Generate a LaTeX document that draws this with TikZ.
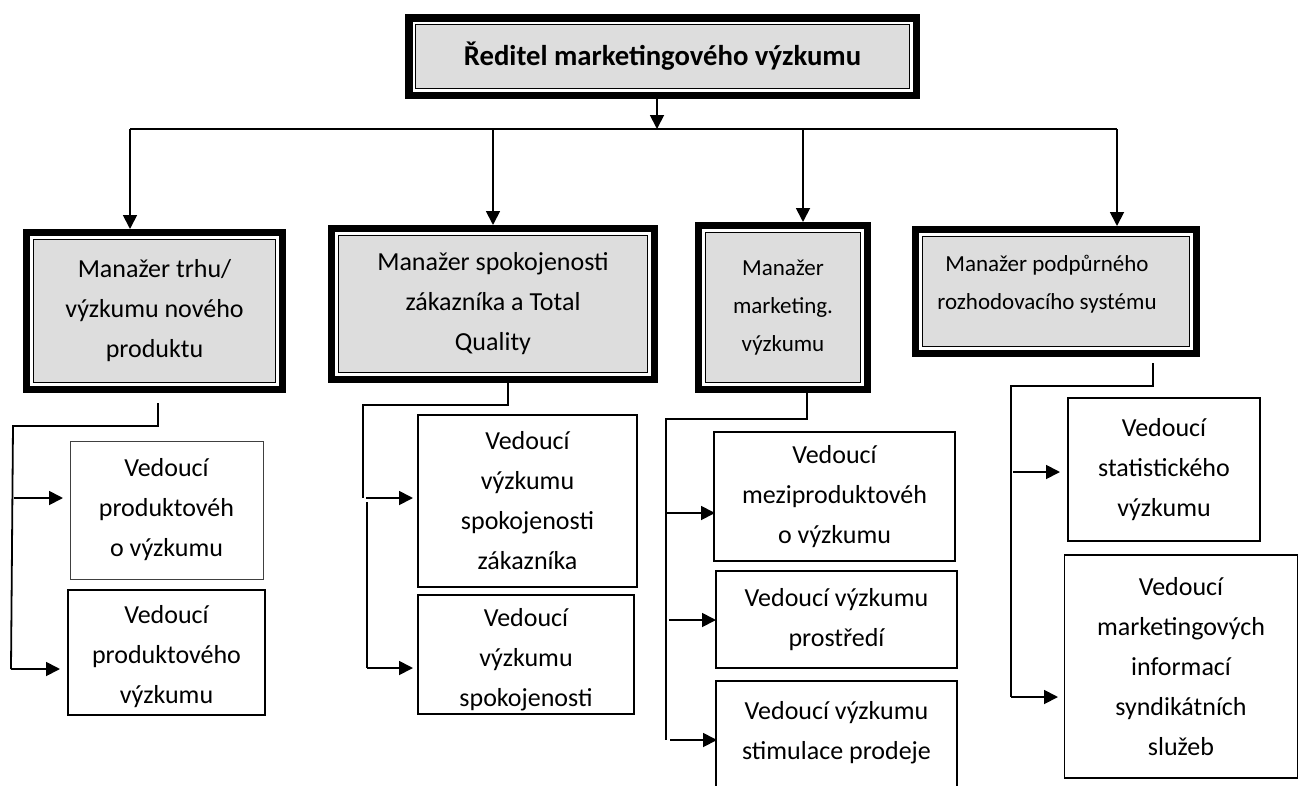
\documentclass[tikz,border=0pt]{standalone}
\usepackage{fontspec}
\setmainfont{Carlito}
\usetikzlibrary{arrows.meta,calc}
\definecolor{mgrgray}{HTML}{DDDDDD}
\begin{document}
\begin{tikzpicture}[x=1pt,y=-1pt,
  txt/.style={font=\fontsize{26}{40}\selectfont, align=center},
  smalltxt/.style={font=\fontsize{23}{38}\selectfont, align=center},
  mgr/.style={draw=black, line width=7pt, fill=white, inner sep=0pt, txt,
    path picture={\draw[line width=1.3pt, fill=mgrgray]
      ([shift={(7,7)}]path picture bounding box.north west) rectangle
      ([shift={(-7,-7)}]path picture bounding box.south east);}},
  sub/.style={draw=black, line width=1.4pt, inner sep=0pt, txt},
  conn/.style={line width=1.8pt},
  arr/.style={conn, -{Triangle[length=14pt,width=14pt]}},
]
\useasboundingbox (0,0) rectangle (1299,785);
\clip (0,0) rectangle (1299,785);

% director
\node[mgr, line width=7.5pt, minimum width=507.5pt, minimum height=77.5pt,
      font=\bfseries\fontsize{28.7}{34}\selectfont] (top) at (662.5,56.5)
      {Ředitel marketingového výzkumu};

% managers
\node[mgr, minimum width=256pt, minimum height=157pt] (m1) at (154.5,311)
  {Manažer trhu/\\výzkumu nového\\produktu};
\node[mgr, minimum width=323pt, minimum height=151pt] (m2) at (493,304)
  {Manažer spokojenosti\\zákazníka a Total\\Quality};
\node[mgr, smalltxt, minimum width=169pt, minimum height=164pt] (m3) at (783,307.5)
  {Manažer\\marketing.\\výzkumu};
\node[mgr, minimum width=281pt, minimum height=124pt] (m4) at (1056,291.5) {};
\node[smalltxt] (m4t) at (1047,284) {Manažer podpůrného\\rozhodovacího systému};

% section heads
\node[sub, line width=0.9pt, draw=black!75, minimum width=193pt, minimum height=138pt] (a1) at (166.5,510)
  {Vedoucí\\produktovéh\\o výzkumu};
\node[sub, minimum width=197pt, minimum height=125pt] (a2) at (166.5,652.5) {};
\node[txt] (a2t) at (166.5,657) {Vedoucí\\produktového\\výzkumu};

\node[sub, minimum width=219pt, minimum height=172pt] (b1) at (527.5,501)
  {Vedoucí\\výzkumu\\spokojenosti\\zákazníka};
\node[sub, minimum width=216pt, minimum height=119pt] (b2) at (526,654.5) {};
\node[txt] (b2t) at (526,660) {Vedoucí\\výzkumu\\spokojenosti};

\node[sub, minimum width=241pt, minimum height=129pt] (c1) at (834.5,496.5)
  {Vedoucí\\meziproduktovéh\\o výzkumu};
\node[sub, minimum width=241pt, minimum height=97pt] (c2) at (836.5,619.5)
  {Vedoucí výzkumu\\prostředí};
\node[sub, minimum width=241pt, minimum height=125pt] (c3) at (836.5,743.5) {};
\node[txt] (c3t) at (836.5,733) {Vedoucí výzkumu\\stimulace prodeje};

\node[sub, minimum width=192pt, minimum height=143pt] (d1) at (1164,469.5)
  {Vedoucí\\statistického\\výzkumu};
\node[sub, minimum width=233pt, minimum height=223pt] (d2) at (1181,666.5)
  {Vedoucí\\marketingových\\informací\\syndikátních\\služeb};

% top level connectors
\coordinate (t0) at ($(top.south)+(-5.5,0)$);
\coordinate (busL) at (130,129);
\coordinate (busR) at (1117,129);
\coordinate (bus2) at (493,129);
\coordinate (bus3) at (803,129);
\draw[conn] (busL) -- (busR);
\draw[arr] (t0) -- (t0 |- busL);
\draw[arr] (busL) -- (busL |- m1.north);
\draw[arr] (bus2) -- (bus2 |- m2.north);
\draw[arr] (bus3) -- (bus3 |- m3.north);
\draw[arr] (busR) -- (busR |- m4.north);

% first branch
\coordinate (k1) at (158,403);
\coordinate (k1e) at (11,669);
\coordinate (r1a) at (63,498);
\coordinate (r1b) at (60,669);
\draw[conn] (k1) -- (158,426) -- (13,426) -- (k1e);
\draw[arr] (13.5,498) -- (r1a);
\draw[arr] (k1e) -- (r1b);

% second branch
\coordinate (k2) at ($(m2.south)+(15,0)$);
\coordinate (r2a) at (413,498);
\coordinate (r2b) at (413,668);
\draw[conn] (k2) -- (508,405) -- (363,405) -- (363,498);
\draw[arr] (366,498) -- (r2a);
\draw[conn] (367,502) -- (367,668);
\draw[arr] (367,668) -- (r2b);

% third branch
\coordinate (k3) at ($(m3.south)+(24,0)$);
\coordinate (r3a) at (715,513);
\coordinate (r3b) at (716,620);
\coordinate (r3c) at (717,740);
\draw[conn] (k3) -- (807,419) -- (666,419) -- (666,740);
\draw[arr] (666,513) -- (r3a);
\draw[arr] (669,620) -- (r3b);
\draw[arr] (670,740) -- (r3c);

% fourth branch
\coordinate (k4) at (1153,363);
\coordinate (r4a) at (1060,472);
\coordinate (r4b) at (1058,697);
\draw[conn] (k4) -- (1153,386) -- (1011,386) -- (1011,697);
\draw[arr] (1013,472) -- (r4a);
\draw[arr] (1011,697) -- (r4b);
\end{tikzpicture}
\end{document}
